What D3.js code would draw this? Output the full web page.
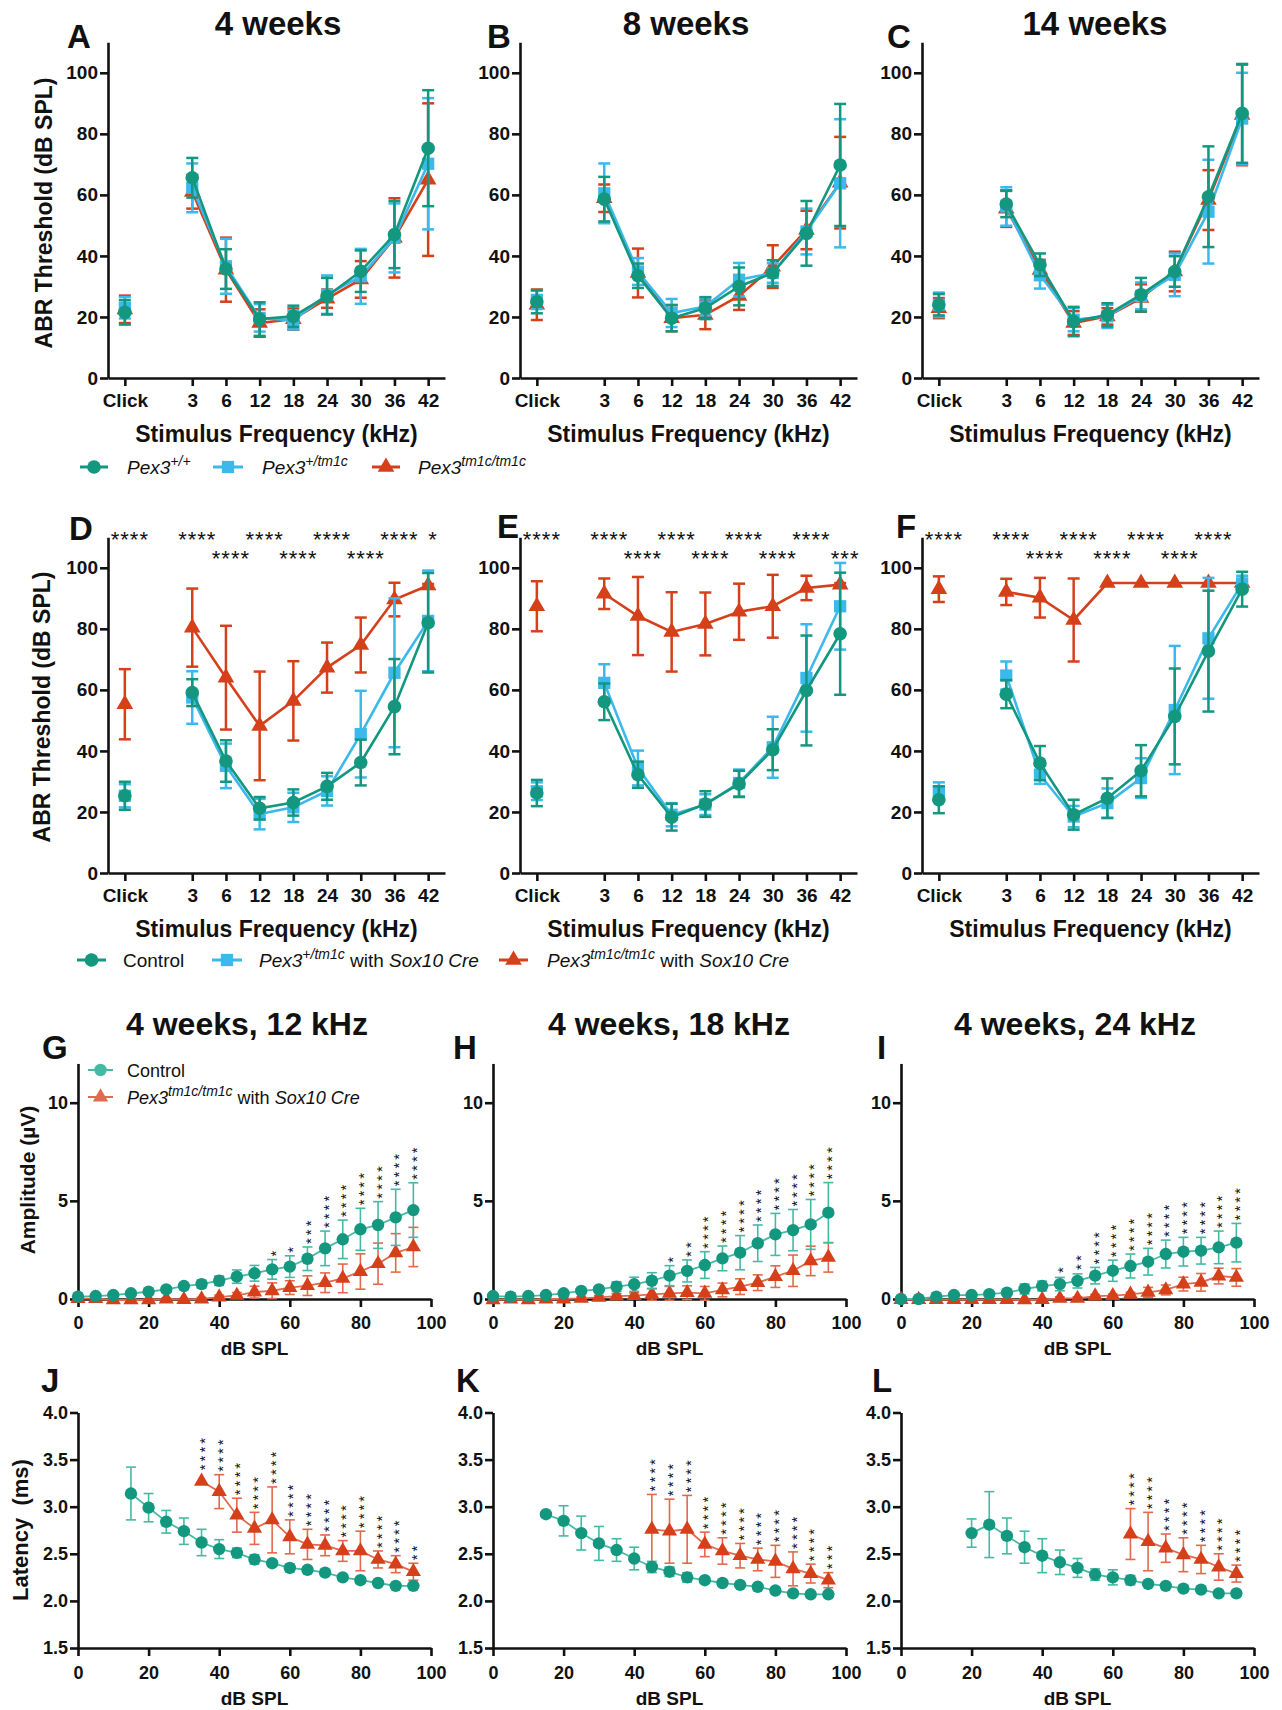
<!DOCTYPE html>
<html lang="en">
<head>
<meta charset="UTF-8">
<title>ABR thresholds, amplitudes and latencies</title>
<script src="https://d3js.org/d3.v7.min.js"></script>
<style>
  body { margin: 0; background: #fff; }
  svg { display: block; font-family: "Liberation Sans", Arial, sans-serif; }
  text { fill: #111; white-space: pre; }
  .axis .tick text { font-weight: bold; }
</style>
</head>
<body>
<svg id="fig" width="1282" height="1710"></svg>
<script>
// ---- categories / ticks ----
const freqLabels = ["Click", "3", "6", "12", "18", "24", "30", "36", "42"];
const freqPos = [0, 2, 3, 4, 5, 6, 7, 8, 9];
const abrTicks = [0, 20, 40, 60, 80, 100];
const levelTicks = [0, 20, 40, 60, 80, 100];
const ampTicks = [0, 5, 10];
const latTicks = [1.5, 2.0, 2.5, 3.0, 3.5, 4.0];

// ---- A: 4 weeks (Pex3 +/+, +/tm1c, tm1c/tm1c) ----
const aWt = [21.5, 65.6, 35.7, 19.3, 20.2, 26.8, 35, 47, 75.3];
const aWtSd = [4, 6.5, 6.5, 5.5, 3.5, 6, 6.8, 11, 19];
const aHet = [23, 62.3, 36.6, 19.7, 18.9, 27.3, 33.3, 45.9, 70.2];
const aHetSd = [3.5, 8, 9, 4.5, 3, 6.3, 9, 11.3, 21.5];
const aHom = [22.5, 61, 35.5, 18, 19.3, 26, 32.3, 45.9, 65];
const aHomSd = [4.5, 5.5, 10.5, 4.5, 3.5, 3, 6, 13, 25];

// ---- B: 8 weeks ----
const bWt = [25, 58.6, 33.5, 19.6, 22.9, 30, 34.4, 47.4, 69.8];
const bWtSd = [3.8, 7.3, 4, 4.3, 3.6, 6.2, 4.2, 10.6, 20];
const bHet = [25.6, 60.5, 34.9, 21.3, 23.4, 32.2, 34.4, 48, 63.8];
const bHetSd = [3, 9.8, 4.4, 4.6, 2.9, 5.5, 3.2, 7.5, 21];
const bHom = [24, 58.9, 34.4, 19.6, 20.7, 26.9, 36.5, 48.5, 64];
const bHomSd = [5, 4.5, 8, 4.3, 4.7, 4.6, 7, 6.3, 15];

// ---- C: 14 weeks ----
const cWt = [24, 57, 37.1, 18.5, 20.7, 27.3, 34.9, 59.4, 86.7];
const cWtSd = [3.5, 4.3, 3.7, 4.8, 3.8, 5.5, 5, 16.5, 16.2];
const cHet = [24, 56.2, 33.8, 19.1, 20.2, 26.9, 33.8, 54.5, 85];
const cHetSd = [4, 6.3, 4.5, 3.8, 3.8, 4.4, 7, 17, 15];
const cHom = [22.9, 55.5, 35.4, 18, 20.2, 26.2, 34.9, 58.3, 86.2];
const cHomSd = [3.3, 6, 3.3, 3.9, 2.7, 4.5, 6.5, 9.8, 16.5];

// ---- D: 4 weeks, Sox10 Cre ----
const dCtrl = [25.3, 59.1, 36.7, 21.2, 23.1, 28.4, 36.2, 54.5, 82];
const dCtrlSd = [4.6, 4.4, 6.8, 3.7, 4.3, 4.4, 7.5, 15.6, 16.3];
const dHet = [25.3, 57.5, 35.1, 19.3, 21.5, 26.9, 45.5, 65.6, 82.6];
const dHetSd = [3.8, 8.6, 7.3, 5, 4.8, 4.8, 14.2, 24.4, 16.5];
const dMut = [55.3, 80.4, 64, 48.2, 56.4, 67.3, 74.7, 89.6, 94.2];
const dMutSd = [11.5, 12.8, 17, 17.8, 13, 8.2, 9, 5.5, 0.5];
const dStarsTop = ["****", "****", "", "****", "", "****", "", "****", "*"];
const dStarsLow = ["", "", "****", "", "****", "", "****", "", ""];

// ---- E: 8 weeks, Sox10 Cre ----
const eCtrl = [26.2, 56.1, 32.2, 18.3, 22.6, 29.2, 40.4, 59.8, 78.4];
const eCtrlSd = [4.3, 6, 4.3, 4.4, 4.2, 4.3, 6.7, 18, 20];
const eHet = [26.8, 62.3, 34.4, 19.1, 22.4, 29.5, 41.2, 63.9, 87.4];
const eHetSd = [2.9, 6.1, 5.7, 3.8, 3.4, 4.4, 10, 17.6, 14.2];
const eMut = [87.4, 91.5, 84.2, 79, 81.6, 85.6, 87.4, 93.4, 94.5];
const eMutSd = [8.2, 5, 12.8, 13, 10.3, 9.2, 10.3, 4, 0.5];
const eStarsTop = ["****", "****", "", "****", "", "****", "", "****", ""];
const eStarsLow = ["", "", "****", "", "****", "", "****", "", "***"];

// ---- F: 14 weeks, Sox10 Cre ----
const fCtrl = [24, 58.6, 36, 19.1, 24.5, 33.5, 51.3, 72.7, 93];
const fCtrlSd = [4.4, 4.6, 5.6, 4.9, 6.5, 8.4, 15.7, 19.8, 5.7];
const fHet = [26.7, 64.7, 32.2, 18.5, 22.9, 31.1, 53.4, 76.9, 94.9];
const fHetSd = [3, 4.6, 3, 3.5, 4.8, 6.5, 21, 19.8, 2.5];
const fMut = [93, 92.1, 90.2, 82.9, 95, 95, 95, 95, 95];
const fMutSd = [4.2, 4.3, 6.5, 13.6, 0, 0, 0, 0, 0];
const fStarsTop = ["****", "****", "", "****", "", "****", "", "****", ""];
const fStarsLow = ["", "", "****", "", "****", "", "****", "", ""];

// ---- G-I: wave I amplitude, 4 weeks ----
const levels = [0, 5, 10, 15, 20, 25, 30, 35, 40, 45, 50, 55, 60, 65, 70, 75, 80, 85, 90, 95];
const gCtrl = [0.12, 0.15, 0.2, 0.29, 0.37, 0.49, 0.66, 0.76, 0.93, 1.14, 1.31, 1.51, 1.65, 2.05, 2.58, 3.04, 3.55, 3.77, 4.16, 4.53];
const gCtrlSd = [0.05, 0.05, 0.06, 0.08, 0.08, 0.13, 0.17, 0.2, 0.24, 0.34, 0.4, 0.5, 0.55, 0.6, 0.88, 0.98, 1.07, 1.19, 1.43, 1.39];
const gMut = [0.02, 0.02, -0.05, -0.05, -0.05, 0, -0.03, 0, 0.1, 0.18, 0.35, 0.42, 0.58, 0.68, 0.83, 1.05, 1.4, 1.8, 2.35, 2.65];
const gMutSd = [0.03, 0.03, 0.05, 0.05, 0.05, 0.05, 0.05, 0.08, 0.1, 0.15, 0.3, 0.4, 0.35, 0.5, 0.5, 0.73, 0.9, 1.05, 0.98, 1.0];
const gStarLevels = [55, 60, 65, 70, 75, 80, 85, 90, 95];
const gStars = ["*", "*", "***", "****", "****", "****", "****", "****", "****"];

const hCtrl = [0.15, 0.12, 0.15, 0.2, 0.29, 0.41, 0.49, 0.63, 0.75, 0.93, 1.19, 1.43, 1.73, 2.07, 2.36, 2.84, 3.29, 3.51, 3.8, 4.4];
const hCtrlSd = [0.04, 0.04, 0.05, 0.06, 0.08, 0.1, 0.15, 0.25, 0.36, 0.41, 0.51, 0.56, 0.68, 0.63, 0.87, 0.93, 1.07, 1.05, 1.27, 1.53];
const hMut = [-0.05, 0, -0.05, 0, 0, 0.03, 0.08, 0.15, 0.17, 0.24, 0.29, 0.32, 0.29, 0.46, 0.63, 0.83, 1.14, 1.44, 1.94, 2.12];
const hMutSd = [0.05, 0.05, 0.1, 0.08, 0.08, 0.08, 0.1, 0.12, 0.15, 0.3, 0.35, 0.35, 0.35, 0.35, 0.4, 0.4, 0.55, 0.8, 0.75, 0.75];
const hStarLevels = [50, 55, 60, 65, 70, 75, 80, 85, 90, 95];
const hStars = ["*", "**", "****", "****", "****", "****", "****", "****", "****", "****"];

const iCtrl = [0, 0, 0.12, 0.2, 0.2, 0.25, 0.32, 0.51, 0.66, 0.76, 0.92, 1.19, 1.44, 1.68, 1.9, 2.29, 2.41, 2.46, 2.63, 2.87];
const iCtrlSd = [0.03, 0.03, 0.05, 0.06, 0.06, 0.08, 0.1, 0.25, 0.25, 0.34, 0.36, 0.42, 0.54, 0.61, 0.68, 0.71, 0.73, 0.68, 0.83, 0.98];
const iMut = [-0.03, -0.03, -0.03, -0.03, -0.03, -0.03, -0.03, -0.05, -0.03, 0.03, 0.03, 0.15, 0.17, 0.24, 0.34, 0.46, 0.76, 0.85, 1.17, 1.1];
const iMutSd = [0.05, 0.05, 0.05, 0.05, 0.05, 0.05, 0.05, 0.06, 0.06, 0.08, 0.08, 0.08, 0.08, 0.1, 0.25, 0.25, 0.35, 0.45, 0.4, 0.45];
const iStarLevels = [45, 50, 55, 60, 65, 70, 75, 80, 85, 90, 95];
const iStars = ["*", "**", "****", "****", "****", "****", "****", "****", "****", "****", "****"];

// ---- J-L: wave I latency, 4 weeks ----
const jCtrlLv = [15, 20, 25, 30, 35, 40, 45, 50, 55, 60, 65, 70, 75, 80, 85, 90, 95];
const jCtrl = [3.14, 2.99, 2.84, 2.74, 2.62, 2.55, 2.51, 2.44, 2.4, 2.35, 2.33, 2.3, 2.25, 2.22, 2.19, 2.16, 2.16];
const jCtrlSd = [0.28, 0.15, 0.12, 0.14, 0.14, 0.1, 0.05, 0.05, 0.03, 0.04, 0.03, 0.03, 0.03, 0.03, 0.03, 0.02, 0.02];
const jMutLv = [35, 40, 45, 50, 55, 60, 65, 70, 75, 80, 85, 90, 95];
const jMut = [3.27, 3.16, 2.91, 2.77, 2.86, 2.68, 2.6, 2.59, 2.53, 2.53, 2.44, 2.39, 2.31];
const jMutSd = [0, 0.18, 0.18, 0.17, 0.35, 0.18, 0.16, 0.11, 0.11, 0.21, 0.09, 0.09, 0.09];
const jStars = ["****", "****", "****", "****", "****", "****", "****", "****", "****", "****", "****", "****", "**"];

const kCtrlLv = [15, 20, 25, 30, 35, 40, 45, 50, 55, 60, 65, 70, 75, 80, 85, 90, 95];
const kCtrl = [2.92, 2.85, 2.72, 2.61, 2.54, 2.45, 2.36, 2.31, 2.25, 2.22, 2.19, 2.17, 2.15, 2.11, 2.08, 2.07, 2.07];
const kCtrlSd = [0, 0.16, 0.18, 0.18, 0.12, 0.12, 0.06, 0.05, 0.05, 0.03, 0.03, 0.02, 0.02, 0.02, 0.02, 0.02, 0.02];
const kMutLv = [45, 50, 55, 60, 65, 70, 75, 80, 85, 90, 95];
const kMut = [2.76, 2.74, 2.76, 2.6, 2.53, 2.48, 2.44, 2.42, 2.34, 2.29, 2.22];
const kMutSd = [0.37, 0.34, 0.36, 0.13, 0.14, 0.13, 0.12, 0.17, 0.18, 0.1, 0.08];
const kStars = ["****", "****", "****", "****", "****", "****", "****", "****", "****", "****", "***"];

const lCtrlLv = [20, 25, 30, 35, 40, 45, 50, 55, 60, 65, 70, 75, 80, 85, 90, 95];
const lCtrl = [2.72, 2.81, 2.69, 2.57, 2.48, 2.41, 2.35, 2.28, 2.25, 2.22, 2.18, 2.16, 2.13, 2.12, 2.08, 2.08];
const lCtrlSd = [0.15, 0.35, 0.19, 0.17, 0.18, 0.13, 0.1, 0.06, 0.08, 0.05, 0.02, 0.02, 0.02, 0.02, 0.02, 0.02];
const lMutLv = [65, 70, 75, 80, 85, 90, 95];
const lMut = [2.71, 2.63, 2.56, 2.49, 2.44, 2.36, 2.29];
const lMutSd = [0.27, 0.31, 0.15, 0.18, 0.15, 0.14, 0.09];
const lStars = ["****", "****", "****", "****", "****", "****", "****"];

// ---- styling ----
const TEAL = "#13977f", BLUE = "#3bb8ec", RED = "#d5401b";
const TEAL_LT = "#44baa4", RED_LT = "#e2694c";
const svg = d3.select("#fig");
svg.append("rect").attr("width", 1282).attr("height", 1710).attr("fill", "#fff");

function styleAxis(g, fs) {
  g.attr("font-size", null).attr("font-family", null);
  g.select(".domain").attr("stroke", "#111").attr("stroke-width", 2.6);
  g.selectAll(".tick line").attr("stroke", "#111").attr("stroke-width", 2.6);
  g.selectAll(".tick text").attr("fill", "#111").style("font-size", fs + "px");
}

function drawMarker(g, shape, x, y, color, big) {
  if (shape === "circle") {
    g.append("circle").attr("cx", x).attr("cy", y).attr("r", big ? 6.8 : 6.2).attr("fill", color);
  } else {
    const type = shape === "square" ? d3.symbolSquare : d3.symbolTriangle;
    const size = shape === "square" ? (big ? 150 : 120) : (big ? 120 : 100);
    g.append("path").attr("d", d3.symbol().type(type).size(size)())
      .attr("transform", `translate(${x},${y})`).attr("fill", color);
  }
}

function errBar(g, x, yLo, yHi, color, w, cap) {
  g.append("line").attr("x1", x).attr("x2", x).attr("y1", yLo).attr("y2", yHi)
    .attr("stroke", color).attr("stroke-width", w);
  [yLo, yHi].forEach(yy => g.append("line").attr("x1", x - cap).attr("x2", x + cap)
    .attr("y1", yy).attr("y2", yy).attr("stroke", color).attr("stroke-width", w));
}

function richText(sel, parts) {
  let up = false;
  parts.forEach(([t, kind]) => {
    const ts = sel.append("tspan").text(t);
    if (kind === "sup") {
      ts.attr("dy", -8).attr("font-size", 14).attr("font-style", "italic");
      up = true;
    } else {
      if (up) { ts.attr("dy", 8); up = false; }
      if (kind === "i") ts.attr("font-style", "italic");
    }
  });
}

function legendItem(x1, x2, y, color, shape, textX, parts, fs, lw, big) {
  const g = svg.append("g");
  g.append("line").attr("x1", x1).attr("x2", x2).attr("y1", y).attr("y2", y)
    .attr("stroke", color).attr("stroke-width", lw);
  drawMarker(g, shape, (x1 + x2) / 2, y, color, big);
  const t = g.append("text").attr("x", textX).attr("y", y + 7).attr("font-size", fs);
  richText(t, parts);
}

function panelText(x, y, str, size, anchor) {
  svg.append("text").attr("x", x).attr("y", y).attr("font-size", size)
    .attr("font-weight", "bold").attr("text-anchor", anchor || "middle").text(str);
}

function yTitle(x, y, str, size) {
  svg.append("text").attr("transform", `translate(${x},${y}) rotate(-90)`)
    .attr("font-size", size).attr("font-weight", "bold").attr("text-anchor", "middle").text(str);
}

// ---- ABR threshold panels (A-F) ----
const ABR_W = 337, ABR_PX = 3.052;
function abrPanel(o) {
  const x = d3.scaleLinear().domain([-0.5, 9.5]).range([o.left, o.left + ABR_W]);
  const y = d3.scaleLinear().domain([0, 110]).range([o.y0, o.y0 - 110 * ABR_PX]);
  const g = svg.append("g");
  const xa = g.append("g").attr("class", "axis").attr("transform", `translate(0,${o.y0})`)
    .call(d3.axisBottom(x).tickValues(freqPos).tickFormat((d, i) => freqLabels[i])
      .tickSize(8).tickSizeOuter(0).tickPadding(8));
  styleAxis(xa, 19);
  const ya = g.append("g").attr("class", "axis").attr("transform", `translate(${o.left},0)`)
    .call(d3.axisLeft(y).tickValues(abrTicks).tickSize(8).tickSizeOuter(0).tickPadding(2));
  styleAxis(ya, 19);

  o.series.forEach(s => {
    const pts = freqPos.map((p, i) => ({ x: x(p), y: y(s.mean[i]), sd: s.sd[i],
      lo: y(s.mean[i] - s.sd[i]), hi: y(s.mean[i] + s.sd[i]) }));
    pts.forEach(d => { if (d.sd > 0) errBar(g, d.x, d.lo, d.hi, s.color, 2.5, 6); });
    g.append("path").attr("d", d3.line().x(d => d.x).y(d => d.y)(pts.slice(1)))
      .attr("fill", "none").attr("stroke", s.color).attr("stroke-width", 2.6);
    pts.forEach(d => drawMarker(g, s.shape, d.x, d.y, s.color, true));
  });

  if (o.starsTop) {
    [[o.starsTop, o.y0 - 326], [o.starsLow, o.y0 - 307]].forEach(([arr, yy]) => {
      arr.forEach((st, i) => {
        if (!st) return;
        g.append("text").attr("x", x(freqPos[i]) + 5).attr("y", yy).attr("text-anchor", "middle")
          .attr("font-size", 22).attr("letter-spacing", 1).text(st);
      });
    });
  }
  panelText(o.left + ABR_W / 2, o.y0 + 64, "Stimulus Frequency (kHz)", 23);
  panelText(o.letterX, o.letterY, o.letter, 33, "start");
  if (o.title) panelText(o.titleX, 35, o.title, 33);
}

const abrCols = [108, 520, 922];
const wtS = (m, s) => ({ mean: m, sd: s, color: TEAL, shape: "circle" });
const hetS = (m, s) => ({ mean: m, sd: s, color: BLUE, shape: "square" });
const homS = (m, s) => ({ mean: m, sd: s, color: RED, shape: "triangle" });

abrPanel({ left: abrCols[0], y0: 378, letter: "A", letterX: 67, letterY: 48, title: "4 weeks", titleX: 278,
  series: [homS(aHom, aHomSd), hetS(aHet, aHetSd), wtS(aWt, aWtSd)] });
abrPanel({ left: abrCols[1], y0: 378, letter: "B", letterX: 487, letterY: 48, title: "8 weeks", titleX: 686,
  series: [homS(bHom, bHomSd), hetS(bHet, bHetSd), wtS(bWt, bWtSd)] });
abrPanel({ left: abrCols[2], y0: 378, letter: "C", letterX: 887, letterY: 48, title: "14 weeks", titleX: 1095,
  series: [homS(cHom, cHomSd), hetS(cHet, cHetSd), wtS(cWt, cWtSd)] });

abrPanel({ left: abrCols[0], y0: 873, letter: "D", letterX: 69, letterY: 540,
  series: [homS(dMut, dMutSd), hetS(dHet, dHetSd), wtS(dCtrl, dCtrlSd)], starsTop: dStarsTop, starsLow: dStarsLow });
abrPanel({ left: abrCols[1], y0: 873, letter: "E", letterX: 497, letterY: 538,
  series: [homS(eMut, eMutSd), hetS(eHet, eHetSd), wtS(eCtrl, eCtrlSd)], starsTop: eStarsTop, starsLow: eStarsLow });
abrPanel({ left: abrCols[2], y0: 873, letter: "F", letterX: 896, letterY: 538,
  series: [homS(fMut, fMutSd), hetS(fHet, fHetSd), wtS(fCtrl, fCtrlSd)], starsTop: fStarsTop, starsLow: fStarsLow });

yTitle(52, 213, "ABR Threshold (dB SPL)", 23);
yTitle(50, 707, "ABR Threshold (dB SPL)", 23);

// legends rows 1 and 2
legendItem(80, 108, 467, TEAL, "circle", 127, [["Pex3", "i"], ["+/+", "sup"]], 19, 3, true);
legendItem(213, 243, 467, BLUE, "square", 262, [["Pex3", "i"], ["+/tm1c", "sup"]], 19, 3, true);
legendItem(372, 400, 467, RED, "triangle", 418, [["Pex3", "i"], ["tm1c/tm1c", "sup"]], 19, 3, true);

legendItem(77, 106, 960, TEAL, "circle", 123, [["Control", "n"]], 19, 3, true);
legendItem(212, 242, 960, BLUE, "square", 259, [["Pex3", "i"], ["+/tm1c", "sup"], [" with ", "n"], ["Sox10 Cre", "i"]], 19, 3, true);
legendItem(499, 528, 960, RED, "triangle", 547, [["Pex3", "i"], ["tm1c/tm1c", "sup"], [" with ", "n"], ["Sox10 Cre", "i"]], 19, 3, true);

// ---- amplitude / latency panels (G-L) ----
const LV_W = 353;
const STAR_FS = 15;
function levelPanel(o) {
  const x = d3.scaleLinear().domain([0, 100]).range([o.left, o.left + LV_W]);
  const y = d3.scaleLinear().domain(o.ydom).range([o.y0, o.y0 - (o.ydom[1] - o.ydom[0]) * o.px]);
  const g = svg.append("g");
  const xa = g.append("g").attr("class", "axis").attr("transform", `translate(0,${o.y0})`)
    .call(d3.axisBottom(x).tickValues(levelTicks).tickSize(8).tickSizeOuter(0).tickPadding(o.xPad));
  styleAxis(xa, 18);
  const ya = g.append("g").attr("class", "axis").attr("transform", `translate(${o.left},0)`)
    .call(d3.axisLeft(y).tickValues(o.yticks).tickFormat(o.yfmt).tickSize(8).tickSizeOuter(0).tickPadding(2));
  styleAxis(ya, 18);

  const series = [
    { lv: o.mutLv, mean: o.mut, sd: o.mutSd, color: RED, light: RED_LT, shape: "triangle" },
    { lv: o.ctrlLv, mean: o.ctrl, sd: o.ctrlSd, color: TEAL, light: TEAL_LT, shape: "circle" }
  ];
  series.forEach(s => {
    const pts = s.lv.map((l, i) => ({ x: x(l), y: y(s.mean[i]), sd: s.sd[i],
      lo: y(s.mean[i] - s.sd[i]), hi: y(s.mean[i] + s.sd[i]) }));
    pts.forEach(d => { if (d.sd > 0.015) errBar(g, d.x, d.lo, d.hi, s.light, 1.6, 5); });
    g.append("path").attr("d", d3.line().x(d => d.x).y(d => d.y)(pts))
      .attr("fill", "none").attr("stroke", s.light).attr("stroke-width", 1.8);
    pts.forEach(d => drawMarker(g, s.shape, d.x, d.y, s.color, false));
  });

  // vertical stacks of significance stars above the highest error bar
  o.starLv.forEach((l, i) => {
    let top = Infinity;
    series.forEach(s => {
      const k = s.lv.indexOf(l);
      if (k < 0) return;
      top = Math.min(top, y(s.mean[k] + s.sd[k]), y(s.mean[k]) - 8);
    });
    const bx = x(l) + 0.57 * STAR_FS;
    const by = top - 6 + 3;
    g.append("text").attr("transform", `translate(${bx},${by}) rotate(-90)`)
      .attr("font-size", STAR_FS).attr("letter-spacing", 3).attr("fill", "#333").text(o.stars[i]);
  });

  panelText(o.left + LV_W / 2, o.titleY, "dB SPL", 19);
  panelText(o.letterX, o.letterY, o.letter, 33, "start");
  if (o.title) panelText(o.titleX, 1035, o.title, 32);
}

const lvCols = [78, 493, 901];
const ampBase = { y0: 1299, px: 19.63, ydom: [0, 12], yticks: ampTicks, yfmt: d3.format("d"), xPad: 9, titleY: 1355, letterY: 1059, ctrlLv: levels, mutLv: levels };
levelPanel(Object.assign({}, ampBase, { left: lvCols[0], letter: "G", letterX: 42, title: "4 weeks, 12 kHz", titleX: 247,
  ctrl: gCtrl, ctrlSd: gCtrlSd, mut: gMut, mutSd: gMutSd, starLv: gStarLevels, stars: gStars }));
levelPanel(Object.assign({}, ampBase, { left: lvCols[1], letter: "H", letterX: 453, title: "4 weeks, 18 kHz", titleX: 669,
  ctrl: hCtrl, ctrlSd: hCtrlSd, mut: hMut, mutSd: hMutSd, starLv: hStarLevels, stars: hStars }));
levelPanel(Object.assign({}, ampBase, { left: lvCols[2], letter: "I", letterX: 877, title: "4 weeks, 24 kHz", titleX: 1075,
  ctrl: iCtrl, ctrlSd: iCtrlSd, mut: iMut, mutSd: iMutSd, starLv: iStarLevels, stars: iStars }));

const latBase = { y0: 1648, px: 94.2, ydom: [1.5, 4.0], yticks: latTicks, yfmt: d3.format(".1f"), xPad: 10, titleY: 1705, letterY: 1392 };
levelPanel(Object.assign({}, latBase, { left: lvCols[0], letter: "J", letterX: 41,
  ctrlLv: jCtrlLv, ctrl: jCtrl, ctrlSd: jCtrlSd, mutLv: jMutLv, mut: jMut, mutSd: jMutSd, starLv: jMutLv, stars: jStars }));
levelPanel(Object.assign({}, latBase, { left: lvCols[1], letter: "K", letterX: 456,
  ctrlLv: kCtrlLv, ctrl: kCtrl, ctrlSd: kCtrlSd, mutLv: kMutLv, mut: kMut, mutSd: kMutSd, starLv: kMutLv, stars: kStars }));
levelPanel(Object.assign({}, latBase, { left: lvCols[2], letter: "L", letterX: 872,
  ctrlLv: lCtrlLv, ctrl: lCtrl, ctrlSd: lCtrlSd, mutLv: lMutLv, mut: lMut, mutSd: lMutSd, starLv: lMutLv, stars: lStars }));

yTitle(35, 1180, "Amplitude (µV)", 21);
yTitle(28, 1530, "Latency  (ms)", 22);

// legend inside G
legendItem(88, 113, 1070, TEAL_LT, "circle", 127, [["Control", "n"]], 18, 2, false);
legendItem(88, 113, 1097, RED_LT, "triangle", 127, [["Pex3", "i"], ["tm1c/tm1c", "sup"], [" with ", "n"], ["Sox10 Cre", "i"]], 18, 2, false);
</script>
</body>
</html>
